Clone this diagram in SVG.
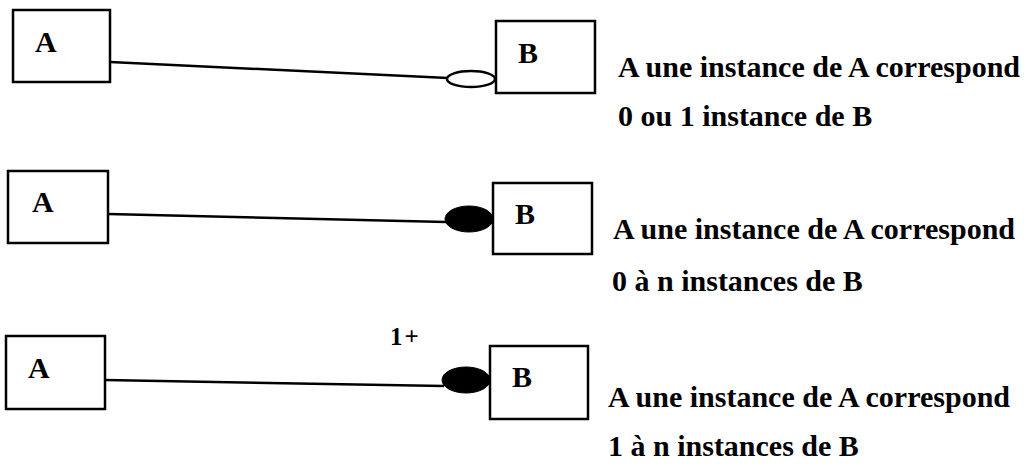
<svg xmlns="http://www.w3.org/2000/svg" width="1034" height="466" viewBox="0 0 1034 466">
<style>
.box{fill:#fff;stroke:#000;stroke-width:2.5}
.lbl{font-family:"Liberation Serif","Times New Roman",serif;font-weight:bold;font-size:30px;fill:#000}
.txt{font-family:"Liberation Serif","Times New Roman",serif;font-weight:bold;font-size:30px;fill:#000}
.mul{font-family:"Liberation Serif","Times New Roman",serif;font-weight:bold;font-size:25px;fill:#000}
.ln{stroke:#000;stroke-width:2.5;fill:none}
.open{fill:#fff;stroke:#000;stroke-width:2.5}
.full{fill:#000;stroke:#000;stroke-width:1}
</style>
<rect width="1034" height="466" fill="#fff"/>
<g id="connectors">
<line class="ln" x1="110" y1="62" x2="448" y2="78"/>
<ellipse class="open" cx="471" cy="79" rx="24" ry="8"/>
<line class="ln" x1="108" y1="214" x2="446" y2="222"/>
<ellipse class="full" cx="469" cy="219" rx="24" ry="13"/>
<line class="ln" x1="105" y1="380" x2="444" y2="386"/>
<ellipse class="full" cx="466" cy="380" rx="24" ry="13"/>
<text class="mul" x="390" y="345" letter-spacing="2">1+</text>
</g>
<g id="a1"><rect class="box" x="13" y="10" width="97" height="72"/><text class="lbl" x="35" y="52">A</text></g>
<g id="b1"><rect class="box" x="496" y="21" width="99" height="72"/><text class="lbl" x="518" y="63">B</text></g>
<g id="a2"><rect class="box" x="8" y="171" width="100" height="72"/><text class="lbl" x="32" y="212">A</text></g>
<g id="b2"><rect class="box" x="493" y="183" width="99" height="71"/><text class="lbl" x="515" y="224">B</text></g>
<g id="a3"><rect class="box" x="6" y="336" width="99" height="73"/><text class="lbl" x="28" y="378">A</text></g>
<g id="b3"><rect class="box" x="490" y="346" width="98" height="73"/><text class="lbl" x="512" y="387">B</text></g>
<g id="t1"><text class="txt" x="618" y="77">A une instance de A correspond</text><text class="txt" x="618" y="126">0 ou 1 instance de B</text></g>
<g id="t2"><text class="txt" x="613" y="239">A une instance de A correspond</text><text class="txt" x="612" y="291">0 à n instances de B</text></g>
<g id="t3"><text class="txt" x="608" y="407">A une instance de A correspond</text><text class="txt" x="608" y="456">1 à n instances de B</text></g>
</svg>
